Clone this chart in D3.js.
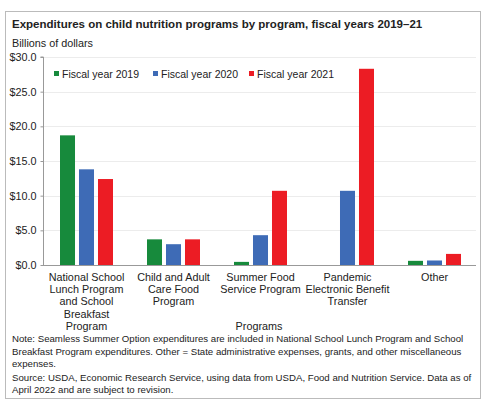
<!DOCTYPE html>
<html>
<head>
<meta charset="utf-8">
<script src="https://cdn.jsdelivr.net/npm/d3@7/dist/d3.min.js"></script>
<style>
  html, body { margin: 0; padding: 0; background: #fff; }
  text { font-family: "Liberation Sans", Arial, sans-serif; fill: #222; }
</style>
</head>
<body>
<svg id="chart" width="483" height="403"></svg>
<script>
// ---- data ----
const categories = [
  "National School Lunch Program and School Breakfast Program",
  "Child and Adult Care Food Program",
  "Summer Food Service Program",
  "Pandemic Electronic Benefit Transfer",
  "Other"
];
const categoryLabelLines = [
  ["National School", "Lunch Program", "and School", "Breakfast", "Program"],
  ["Child and Adult", "Care Food", "Program"],
  ["Summer Food", "Service Program"],
  ["Pandemic", "Electronic Benefit", "Transfer"],
  ["Other"]
];
const seriesNames = ["Fiscal year 2019", "Fiscal year 2020", "Fiscal year 2021"];
const fy2019 = [18.7, 3.7, 0.45, 0, 0.6];
const fy2020 = [13.8, 3.0, 4.3, 10.7, 0.65];
const fy2021 = [12.4, 3.7, 10.7, 28.3, 1.6];
const yTicks = [0, 5, 10, 15, 20, 25, 30];
const colors = ["#178a3c", "#3e6bb6", "#ec1c24"];

const title = "Expenditures on child nutrition programs by program, fiscal years 2019\u201321";
const yUnit = "Billions of dollars";
const xTitle = "Programs";
const noteLines = [
  "Note: Seamless Summer Option expenditures are included in National School Lunch Program and School",
  "Breakfast Program expenditures. Other = State administrative expenses, grants, and other miscellaneous",
  "expenses.",
  "Source: USDA, Economic Research Service, using data from USDA, Food and Nutrition Service. Data as of",
  "April 2022 and are subject to revision."
];

const series = [fy2019, fy2020, fy2021];

// ---- layout ----
const svg = d3.select("#chart");
const mLeft = 43, mRight = 478, mTop = 57, mBottom = 265;

function fitSize(sel, size, target) {
  sel.attr("font-size", size);
  const w = sel.node().getComputedTextLength();
  sel.attr("font-size", size * target / w);
  return size * target / w;
}

// frame
svg.append("rect").attr("x", 5.5).attr("y", 11.5).attr("width", 475).attr("height", 387)
  .attr("fill", "none").attr("stroke", "#bbb").attr("stroke-width", 1);

const tt = svg.append("text").attr("x", 12).attr("y", 28).attr("font-weight", "bold").text(title);
fitSize(tt, 13, 411);
svg.append("text").attr("x", 12).attr("y", 47).attr("font-size", 10.8).text(yUnit);

const y = d3.scaleLinear().domain([0, 30]).range([mBottom, mTop]);
const x0 = d3.scaleBand().domain(categories).range([mLeft, mRight]).paddingInner(0).paddingOuter(0);
const x1 = d3.scaleBand().domain(d3.range(3)).range([0, 53]).paddingInner(0.21);

// gridlines
svg.append("g").selectAll("line").data(yTicks.filter(d => d > 0)).join("line")
  .attr("x1", mLeft).attr("x2", 476)
  .attr("y1", d => Math.round(y(d)) + 0.5).attr("y2", d => Math.round(y(d)) + 0.5)
  .attr("stroke", "#ececec");

// y axis
const yAxis = svg.append("g").attr("transform", `translate(${mLeft + 0.5},0)`)
  .call(d3.axisLeft(y).tickValues(yTicks).tickSize(3).tickPadding(4)
    .tickFormat(d => "$" + d3.format(".1f")(d)));
yAxis.select(".domain").attr("stroke", "#999").attr("d", `M-3,${Math.round(y(30))}H0V${mBottom}`);
yAxis.selectAll(".tick line").attr("stroke", "#999");
yAxis.selectAll(".tick text").attr("font-size", 10.8).attr("font-family", null).attr("fill", "#222");

// bars
categories.forEach((c, i) => {
  const g = svg.append("g").attr("transform", `translate(${x0(c) + (x0.bandwidth() - 53) / 2},0)`);
  g.selectAll("rect").data(series.map((s, k) => ({ k, v: s[i] }))).join("rect")
    .attr("x", d => x1(d.k)).attr("width", x1.bandwidth())
    .attr("y", d => y(d.v)).attr("height", d => mBottom - y(d.v))
    .attr("fill", d => colors[d.k]);
});

// x axis baseline
svg.append("line").attr("x1", mLeft).attr("x2", 476).attr("y1", mBottom + 0.5).attr("y2", mBottom + 0.5)
  .attr("stroke", "#999");

// x labels
categories.forEach((c, i) => {
  const cx = x0(c) + x0.bandwidth() / 2;
  const t = svg.append("text").attr("text-anchor", "middle").attr("font-size", 10.8)
    .attr("x", cx).attr("y", 281);
  categoryLabelLines[i].forEach((ln, j) => {
    t.append("tspan").attr("x", cx).attr("dy", j === 0 ? 0 : 12.2).text(ln);
  });
});
svg.append("text").attr("x", 259).attr("y", 330).attr("text-anchor", "middle").attr("font-size", 10.8).text(xTitle);

// legend
const legendX = [54, 153, 249];
seriesNames.forEach((n, k) => {
  svg.append("rect").attr("x", legendX[k]).attr("y", 71).attr("width", 5).attr("height", 5).attr("fill", colors[k]);
  svg.append("text").attr("x", legendX[k] + 8).attr("y", 78).attr("font-size", 10.5).text(n);
});

// notes
const n0 = svg.append("text").attr("x", 12).attr("y", 342).text(noteLines[0]);
const noteSize = fitSize(n0, 10, 452);
n0.remove();
const nt = svg.append("text").attr("font-size", noteSize).attr("y", 342);
const noteDy = [0, 12.6, 12.6, 13.3, 12.6];
noteLines.forEach((ln, j) => {
  nt.append("tspan").attr("x", 12).attr("dy", noteDy[j]).text(ln);
});
</script>
</body>
</html>
